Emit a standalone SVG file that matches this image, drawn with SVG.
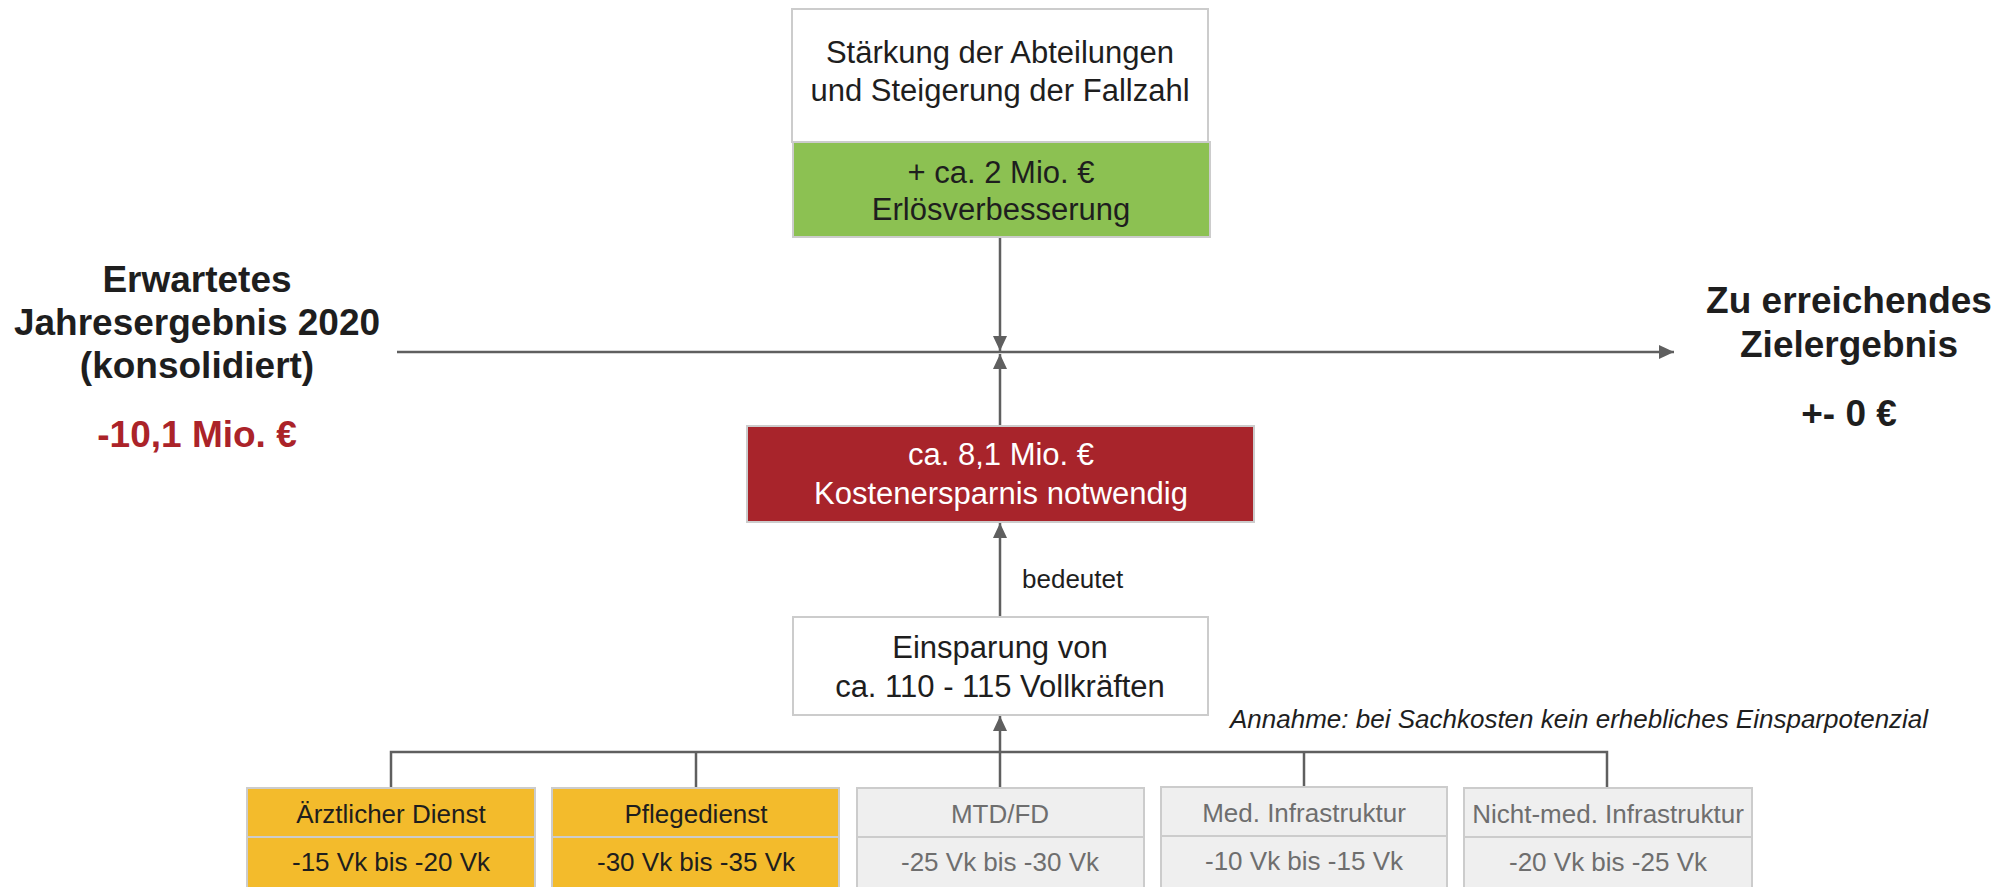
<svg xmlns="http://www.w3.org/2000/svg" width="2016" height="887" viewBox="0 0 2016 887">
<style>
text{font-family:"Liberation Sans",Arial,sans-serif;text-anchor:middle}
.t31{font-size:31px;fill:#1e1e1e}
.w31{font-size:31px;fill:#ffffff}
.big{font-size:37px;font-weight:bold;fill:#1e1e1e}
.red{font-size:37px;font-weight:bold;fill:#ab2329}
.sm{font-size:26px;fill:#1e1e1e}
.gsm{font-size:26px;fill:#6e6e6e}
.box{stroke:#cccccc;stroke-width:2}
.conn{stroke:#5f5f5f;stroke-width:2.5;fill:none}
</style>
<defs>
<marker id="arr" markerUnits="userSpaceOnUse" markerWidth="16" markerHeight="14" refX="15" refY="7" orient="auto">
<path d="M0,0 L15,7 L0,14 z" fill="#5f5f5f"/>
</marker>
</defs>
<rect width="2016" height="887" fill="#ffffff"/>

<g id="connectors">
<line class="conn" x1="397" y1="352" x2="1674" y2="352" marker-end="url(#arr)"/>
<line class="conn" x1="1000" y1="237" x2="1000" y2="351" marker-end="url(#arr)"/>
<line class="conn" x1="1000" y1="426" x2="1000" y2="354" marker-end="url(#arr)"/>
<line class="conn" x1="1000" y1="617" x2="1000" y2="523" marker-end="url(#arr)"/>
<line class="conn" x1="1000" y1="788" x2="1000" y2="716" marker-end="url(#arr)"/>
<polyline class="conn" points="391,788 391,752 1607,752 1607,788"/>
<line class="conn" x1="696" y1="752" x2="696" y2="788"/>
<line class="conn" x1="1304" y1="752" x2="1304" y2="787"/>
<text x="1022" y="588" class="sm" style="text-anchor:start">bedeutet</text>
</g>

<g id="top-box">
<rect class="box" x="792" y="9" width="416" height="133" fill="#ffffff"/>
<rect class="box" x="793" y="142" width="417" height="95" fill="#8cc152"/>
<text x="1000" y="63" class="t31">Stärkung der Abteilungen</text>
<text x="1000" y="101" class="t31">und Steigerung der Fallzahl</text>
<text x="1001" y="183" class="t31">+ ca. 2 Mio. €</text>
<text x="1001" y="220" class="t31">Erlösverbesserung</text>
</g>

<g id="left-label">
<text x="197" y="292" class="big">Erwartetes</text>
<text x="197" y="335" class="big">Jahresergebnis 2020</text>
<text x="197" y="378" class="big">(konsolidiert)</text>
<text x="197" y="447" class="red">-10,1 Mio. €</text>
</g>

<g id="right-label">
<text x="1849" y="313" class="big">Zu erreichendes</text>
<text x="1849" y="357" class="big">Zielergebnis</text>
<text x="1849" y="426" class="big">+- 0 €</text>
</g>

<g id="cost-box">
<rect class="box" x="747" y="426" width="507" height="96" fill="#a8242b"/>
<text x="1001" y="465" class="w31">ca. 8,1 Mio. €</text>
<text x="1001" y="504" class="w31">Kostenersparnis notwendig</text>
</g>

<g id="fte-box">
<rect class="box" x="793" y="617" width="415" height="98" fill="#ffffff"/>
<text x="1000" y="658" class="t31">Einsparung von</text>
<text x="1000" y="697" class="t31">ca. 110 - 115 Vollkräften</text>
</g>

<g id="note">
<text x="1230" y="728" class="sm" style="text-anchor:start;font-style:italic">Annahme: bei Sachkosten kein erhebliches Einsparpotenzial</text>
</g>

<g id="aerztlicher-dienst">
<rect class="box" x="247" y="788" width="288" height="49" fill="#f3bb2c"/>
<rect class="box" x="247" y="837" width="288" height="55" fill="#f3bb2c"/>
<text x="391" y="823" class="sm">Ärztlicher Dienst</text>
<text x="391" y="871" class="sm">-15 Vk bis -20 Vk</text>
</g>

<g id="pflegedienst">
<rect class="box" x="552" y="788" width="287" height="49" fill="#f3bb2c"/>
<rect class="box" x="552" y="837" width="287" height="55" fill="#f3bb2c"/>
<text x="696" y="823" class="sm">Pflegedienst</text>
<text x="696" y="871" class="sm">-30 Vk bis -35 Vk</text>
</g>

<g id="mtd-fd">
<rect class="box" x="857" y="788" width="287" height="49" fill="#efefef"/>
<rect class="box" x="857" y="837" width="287" height="55" fill="#efefef"/>
<text x="1000" y="823" class="gsm">MTD/FD</text>
<text x="1000" y="871" class="gsm">-25 Vk bis -30 Vk</text>
</g>

<g id="med-infrastruktur">
<rect class="box" x="1161" y="787" width="286" height="49" fill="#efefef"/>
<rect class="box" x="1161" y="836" width="286" height="56" fill="#efefef"/>
<text x="1304" y="822" class="gsm">Med. Infrastruktur</text>
<text x="1304" y="870" class="gsm">-10 Vk bis -15 Vk</text>
</g>

<g id="nicht-med-infrastruktur">
<rect class="box" x="1464" y="788" width="288" height="49" fill="#efefef"/>
<rect class="box" x="1464" y="837" width="288" height="55" fill="#efefef"/>
<text x="1608" y="823" class="gsm">Nicht-med. Infrastruktur</text>
<text x="1608" y="871" class="gsm">-20 Vk bis -25 Vk</text>
</g>
</svg>
